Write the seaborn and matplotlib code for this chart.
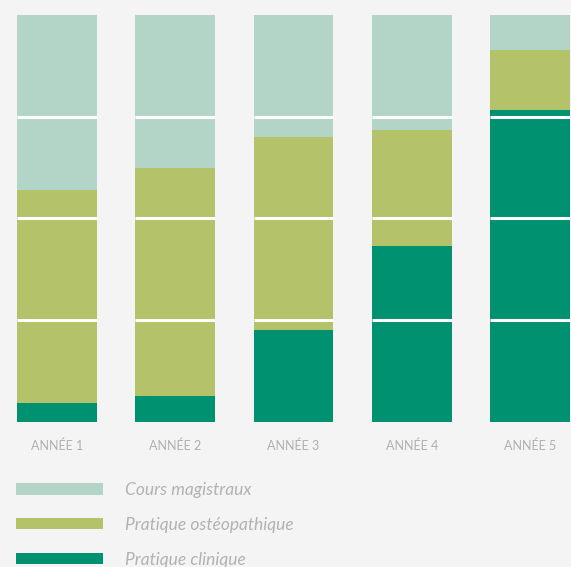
import matplotlib
matplotlib.use("Agg")
import matplotlib.pyplot as plt
import numpy as np
import pandas as pd
import seaborn as sns

# ---------------------------------------------------------------------------
# Data (percent of teaching time per year)
# ---------------------------------------------------------------------------
YEARS = ["ANNÉE 1", "ANNÉE 2", "ANNÉE 3", "ANNÉE 4", "ANNÉE 5"]
CLINIQUE = [4.5, 6.3, 22.5, 43.2, 76.6]
OSTEO = [52.5, 56.0, 47.5, 28.5, 14.8]
COURS = [43.0, 37.7, 30.0, 28.3, 8.6]

SERIES_LABELS = ["Cours magistraux", "Pratique ostéopathique", "Pratique clinique"]
COLORS = ["#b3d5c8", "#b4c26a", "#009270"]
BG = "#f4f4f4"
TEXT_GREY = "#b2b2b2"

df = pd.DataFrame({
    "year": YEARS,
    "clinique": CLINIQUE,
    "osteo": OSTEO,
    "cours": COURS,
})
df["top_osteo"] = df["clinique"] + df["osteo"]
df["top_cours"] = df["top_osteo"] + df["cours"]

sns.set_theme(style="white")
plt.rcParams["font.family"] = ["Lato", "DejaVu Sans"]

fig = plt.figure(figsize=(5.71, 5.67), dpi=100, facecolor=BG)
ax = fig.add_axes([17 / 571, (567 - 421.5) / 567, 553 / 571, 406.5 / 567])
ax.set_facecolor(BG)

width = 80 / 118.3
# draw tallest first so stacks show through
for col, label, color in [("top_cours", SERIES_LABELS[0], COLORS[0]),
                          ("top_osteo", SERIES_LABELS[1], COLORS[1]),
                          ("clinique", SERIES_LABELS[2], COLORS[2])]:
    sns.barplot(data=df, x="year", y=col, color=color, width=width,
                label=label, ax=ax, linewidth=0, saturation=1)

# white guide lines, only across the bars
for bar in ax.containers[0]:
    x0 = bar.get_x()
    x1 = x0 + bar.get_width()
    ax.hlines([25, 50, 75], x0, x1, color="white", lw=2.2, zorder=5)

ax.set_xlim(-0.338, 4.338)
ax.set_ylim(0, 100)
ax.set_xlabel("")
ax.set_ylabel("")
ax.set_yticks([])
ax.tick_params(axis="x", length=0, pad=13, labelsize=9, labelcolor="#b0b0b0")
for spine in ax.spines.values():
    spine.set_visible(False)

handles, labels = ax.get_legend_handles_labels()
if ax.get_legend():
    ax.get_legend().remove()
leg = fig.legend(
    handles, labels,
    loc="upper left", bbox_to_anchor=(16 / 571, (567 - 482) / 567),
    frameon=False, fontsize=12.5, handlelength=5.0, handleheight=0.64,
    handletextpad=1.25, labelspacing=1.08, borderpad=0, borderaxespad=0,
)
for t in leg.get_texts():
    t.set_color(TEXT_GREY)
    t.set_fontstyle("italic")

fig.savefig("out.png", dpi=100, facecolor=BG)
